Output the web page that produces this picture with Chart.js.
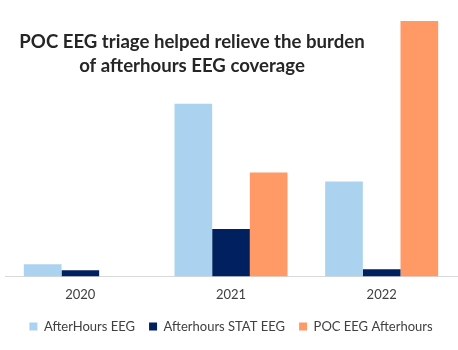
<!DOCTYPE html>
<html>
<head>
<meta charset="utf-8">
<script src="https://cdn.jsdelivr.net/npm/chart.js@4"></script>
<style>
  html, body { margin: 0; padding: 0; background: #fff; }
  #wrap { width: 458px; height: 350px; }
</style>
</head>
<body>
<div id="wrap"><canvas id="barChart" width="458" height="350"></canvas></div>
<script>
var years = ['2020', '2021', '2022'];
var afterHoursEEG = [12, 171, 94];
var afterhoursStatEEG = [6, 47, 7];
var pocEEGAfterhours = [0, 103, 253];
var titleLines = ['POC EEG triage helped relieve the burden', 'of afterhours EEG coverage'];

// title sits over the plot area, like in the original, so draw it by hand
var overlayTitle = {
    id: 'overlayTitle',
    afterDraw: function (chart) {
        var ctx = chart.ctx;
        ctx.save();
        ctx.font = 'bold 18.6px Lato';
        ctx.fillStyle = '#262626';
        ctx.textAlign = 'center';
        ctx.textBaseline = 'middle';
        ctx.fillText(titleLines[0], 192, 42);
        ctx.fillText(titleLines[1], 192, 66);
        ctx.restore();
    }
};

var ctx = document.getElementById('barChart');
var barChart = new Chart(ctx, {
    type: 'bar',
    data: {
        labels: years,
        datasets: [{
            label: 'AfterHours EEG',
            backgroundColor: '#ABD2EE',
            data: afterHoursEEG
        }, {
            label: 'Afterhours STAT EEG',
            backgroundColor: '#002060',
            data: afterhoursStatEEG
        }, {
            label: 'POC EEG Afterhours',
            backgroundColor: '#FF9A66',
            data: pocEEGAfterhours
        }]
    },
    options: {
        responsive: false,
        animation: false,
        layout: {
            padding: { top: 21, left: 5, right: 1, bottom: 7 }
        },
        datasets: {
            bar: { categoryPercentage: 0.75, barPercentage: 1 }
        },
        scales: {
            x: {
                grid: { display: false },
                border: { display: true, color: '#D9D9D9', width: 1 },
                ticks: { color: '#404040', font: { family: 'Lato', size: 13 }, padding: 3 }
            },
            y: {
                display: false,
                min: 0,
                max: 253
            }
        },
        plugins: {
            legend: {
                position: 'bottom',
                labels: {
                    color: '#404040',
                    font: { family: 'Lato', size: 13 },
                    boxWidth: 8,
                    boxHeight: 8,
                    padding: 14
                }
            },
            title: { display: false },
            tooltip: { enabled: false }
        }
    },
    plugins: [overlayTitle]
});
</script>
</body>
</html>
